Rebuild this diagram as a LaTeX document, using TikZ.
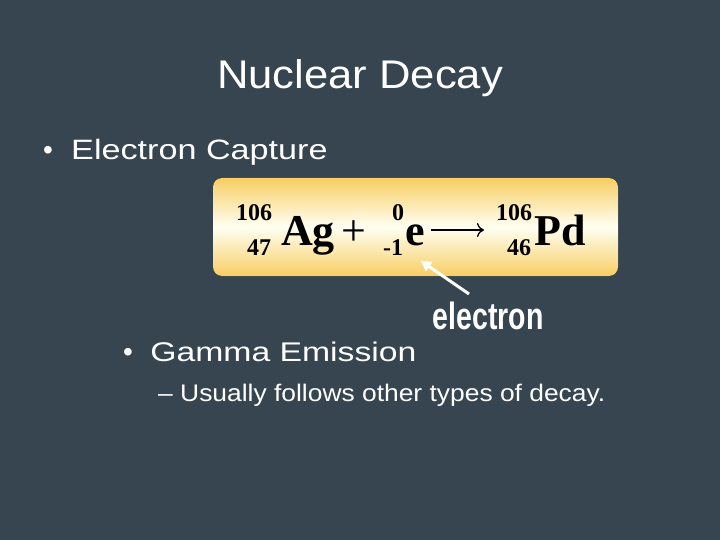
\documentclass[tikz,border=0pt]{standalone}
\usepackage{fontspec}
\setmainfont{Liberation Sans}
\newfontfamily\eqfont{Liberation Serif}
\usetikzlibrary{arrows.meta}
\definecolor{bg}{RGB}{54,69,79}
\definecolor{boxy}{RGB}{248,206,100}
\begin{document}
\begin{tikzpicture}[x=1pt,y=-1pt,
  txt/.style={text=white,inner sep=0pt,anchor=base west},
  eq/.style={inner sep=0pt,anchor=base west,font=\eqfont\bfseries,text=black},
  small/.style={eq,font=\eqfont\bfseries\fontsize{24}{24}\selectfont}]
\fill[bg] (0,0) rectangle (720,540);
\useasboundingbox (0,0) rectangle (720,540);
\node[text=white,inner sep=0pt,font=\fontsize{40}{40}\selectfont,xscale=1.09] (title) at (360,78) {Nuclear Decay};
\node[txt,font=\fontsize{28}{28}\selectfont] (d1) at (43,160) {•};
\node[txt,font=\fontsize{28}{28}\selectfont,xscale=1.22] (b1) at (71,160) {Electron Capture};
\fill[rounded corners=9pt,top color=boxy,bottom color=boxy,middle color=white!95!yellow] (213,178) rectangle (618,276);
\node[small] (a1) at (236,221) {106};
\node[small] (a2) at (247,255) {47};
\node[eq,font=\eqfont\bfseries\fontsize{44}{44}\selectfont] (ag) at (281,245) {Ag};
\node[eq,font=\eqfont\fontsize{44}{44}\selectfont] (plus) at (341,245) {+};
\node[small] (e1) at (392,221) {0};
\node[small] (e2) at (383,255) {-1};
\node[eq,font=\eqfont\bfseries\fontsize{44}{44}\selectfont] (e) at (405,245) {e};
\coordinate (r1) at (431,230);
\coordinate (r2) at (484,230);
\draw[line width=1.3pt,-{To[length=7pt,width=14pt]}] (r1) -- (r2);
\node[small] (p1) at (496,221) {106};
\node[small] (p2) at (507,255) {46};
\node[eq,font=\eqfont\bfseries\fontsize{44}{44}\selectfont] (pd) at (534,245) {Pd};
\node[text=white,inner sep=0pt,font=\bfseries\fontsize{38}{38}\selectfont,xscale=0.75] (el) at (488,316) {electron};
\draw[white,line width=3pt,-{Triangle[length=10pt,width=11pt]}] (469,294) -- (421,261);
\node[txt,font=\fontsize{28}{28}\selectfont] (d2) at (123,361) {•};
\node[txt,font=\fontsize{27}{27}\selectfont,xscale=1.25] (b2) at (150,361) {Gamma Emission};
\node[txt,font=\fontsize{24}{24}\selectfont,xscale=1.1] (s1) at (158,401) {– Usually follows other types of decay.};
\end{tikzpicture}
\end{document}
